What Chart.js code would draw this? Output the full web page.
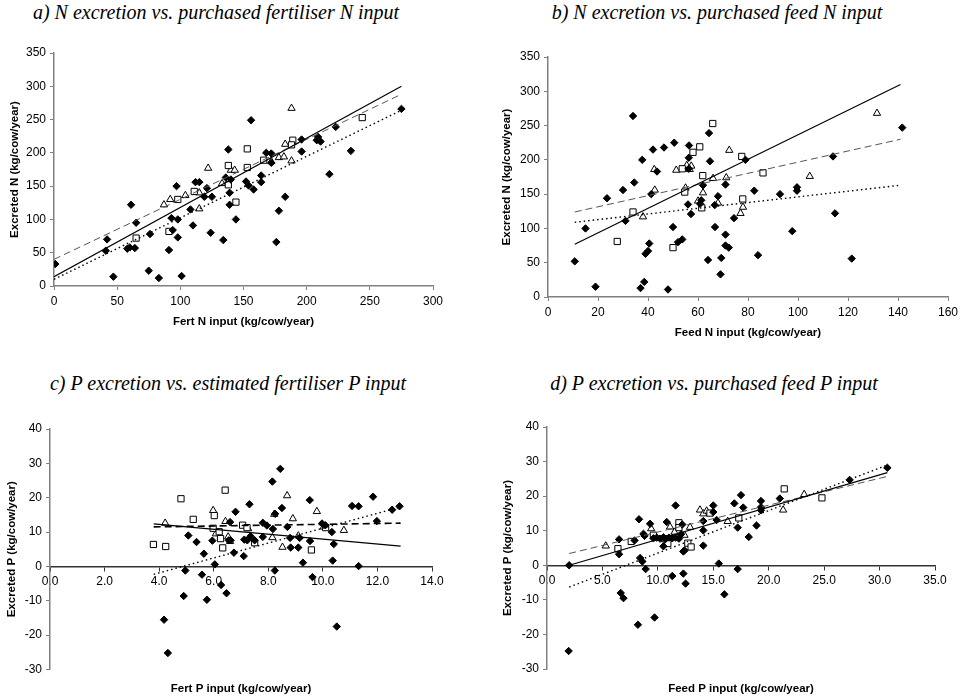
<!DOCTYPE html>
<html>
<head>
<meta charset="utf-8">
<script src="https://cdn.jsdelivr.net/npm/chart.js"></script>
<style>
  body { margin: 0; background: #fff; }
  #page { position: relative; width: 963px; height: 700px; overflow: hidden; }
  canvas { position: absolute; }
  .ptitle { position: absolute; font-family: "Liberation Serif", "Times New Roman", serif; font-style: italic; font-size: 20px; line-height: 24px; color: #000; white-space: nowrap; transform: translateX(-50%); }
</style>
</head>
<body>
<div id="page">
  <div class="ptitle" style="left:216px; top:0px;">a) N excretion vs. purchased fertiliser N input</div>
  <div class="ptitle" style="left:717px; top:0px;">b) N excretion vs. purchased feed N input</div>
  <div class="ptitle" style="left:228px; top:371px;">c) P excretion vs. estimated fertiliser P input</div>
  <div class="ptitle" style="left:714px; top:371px;">d) P excretion vs. purchased feed P input</div>
  <canvas id="chartA" width="460" height="293" style="left:0px; top:40px;"></canvas>
  <canvas id="chartB" width="483" height="304" style="left:480px; top:40px;"></canvas>
  <canvas id="chartC" width="460" height="290" style="left:0px; top:410px;"></canvas>
  <canvas id="chartD" width="483" height="290" style="left:480px; top:410px;"></canvas>
</div>
<script>
// a) Fert N input vs excreted N
const aDiamonds = [[1,33],[42,70],[41,53],[47,14],[61,122],[58,56],[60,58],[64,57],[65,95],[75,23],[76,78],[83,12],[91,54],[93,102],[94,84],[98,73],[98,100],[97,150],[101,15],[108,115],[110,91],[112,156],[115,156],[121,147],[119,134],[125,134],[124,80],[134,69],[136,163],[138,205],[139,122],[139,140],[140,160],[144,100],[156,249],[152,157],[154,151],[158,145],[164,166],[164,156],[168,200],[172,185],[172,199],[176,66],[178,113],[183,134],[196,220],[196,202],[208,219],[209,224],[211,217],[218,168],[223,239],[235,203],[275,266]];
const aSquares = [[65,72],[91,82],[98,130],[111,142],[138,181],[138,152],[144,126],[153,206],[153,178],[166,189],[189,219],[188,212],[244,253]];
const aTriangles = [[87,122],[92,130],[104,136],[115,140],[115,116],[122,177],[133,154],[140,174],[143,174],[172,187],[178,193],[182,194],[183,213],[188,267],[188,188]];
const aLineX = [0, 275];
const aSolid = [14, 300];
const aDashed = [40, 288];
const aDotted = [10, 264];

// b) Feed N input vs excreted N
const bDiamonds = [[10.7,52],[15,100],[19,15],[23.6,144],[30,156],[31,111],[34.5,167],[34,264],[37.7,200],[37,13],[38.5,22],[39,63],[40,67],[40.5,78],[41.3,150],[42,215],[43.6,183],[46.4,218],[48,11],[50.5,225],[50,102],[52,80],[53.7,84],[56.4,221],[56.3,203],[56.3,187],[56,135],[57.2,121],[60.8,136],[61.3,141],[62,163],[64.4,239],[64.8,198],[64,54],[66.8,102],[66.7,134],[68,147],[69.3,57],[69,33],[71,91],[71,75],[72.3,72],[71,164],[74.4,115],[79,200],[82.5,155],[84,61],[92.8,150],[97.7,96],[99.6,160],[99.6,155],[114,205],[114.8,122],[121.5,56],[141.7,247]];
const bSquares = [[27.7,81],[34,124],[50,72],[53.7,187],[54.7,153],[58,211],[60.7,219],[65.9,253],[61.9,177],[61.5,130],[77.5,205],[77.9,143],[86,181]];
const bTriangles = [[38,117],[42.5,186],[42.7,156],[51.3,185],[55,159],[55.5,192],[57.3,191],[56.7,186],[60,140],[62,152],[66,173],[68,137],[72.5,214],[71.3,174],[77,122],[78,131],[104.7,176],[131.6,268]];
const bLineX = [10.7, 141];
const bSolid = [77, 310];
const bDashed = [124, 230];
const bDotted = [109, 163];

// c) Fert P input vs excreted P
const cDiamonds = [[4.18,-15.5],[4.32,-25.2],[4.96,-1.2],[4.9,-8.6],[5.07,9],[5.37,7.1],[5.57,-2.4],[5.64,3.7],[5.75,-9.7],[5.95,7.5],[6.04,0.6],[6.27,-5.4],[6.47,-7.8],[6.6,12.9],[6.62,7.6],[6.8,15.9],[6.74,4],[6.55,7.6],[7.1,3],[7.12,7.8],[7.23,7.6],[7.31,18.1],[7.35,8.8],[7.5,7.6],[7.8,12.7],[7.8,8.6],[7.95,11.9],[8.15,24.7],[8.17,10.9],[8.24,-1.2],[8.25,15.3],[8.44,28.4],[8.5,17],[8.7,11.5],[8.8,8.3],[8.82,5.5],[9.1,5.5],[9.15,8.3],[9.27,1.1],[9.52,19.3],[9.53,7.4],[9.62,-3.1],[9.97,12.5],[10.09,12],[10.33,10],[10.4,6.5],[10.36,1.7],[10.51,-17.5],[11.07,17.6],[11.31,17.5],[11.31,0.1],[11.84,20.3],[11.98,13.2],[12.54,16.5],[12.81,17.5]];
const cSquares = [[3.79,6.4],[4.24,5.8],[4.8,19.7],[5.25,13.7],[5.98,11.1],[6.02,14.8],[6.2,10.1],[6.42,22.2],[6.25,8.1],[6.33,5.4],[7.06,12],[7.22,11.3],[7.5,6.9],[9.58,4.8],[10.1,11.3]];
const cTriangles = [[4.22,12.6],[5.98,16.3],[6.08,9.5],[6.43,13.1],[6.53,8.6],[6.6,7.3],[7.26,11],[8.15,8.4],[8.22,15.2],[8.52,5.6],[8.69,20.6],[8.9,13.9],[9.1,8.9],[9.78,16],[10.03,11.5],[10.77,10.5]];
const cLineX = [3.8, 12.85];
const cSolid = [12.4, 5.9];
const cDashed = [11.5, 12.6];
const cDotted = [-2.3, 17.3];

// d) Feed P input vs excreted P
const dDiamonds = [[2,0],[1.95,-24.8],[6.5,7.5],[6.5,3.2],[6.65,-8],[6.9,-9.5],[7.9,7.2],[8.3,13.3],[8.2,-17.2],[8.4,2.1],[8.6,1.1],[8.7,9.1],[8.8,8.5],[8.9,-1.1],[9.3,12],[9.7,-15.1],[9.6,7.8],[9.9,8],[10.2,7.7],[10.5,8.1],[10.7,7.6],[10.8,12.5],[11,8],[11.3,7.8],[11.6,8],[11.9,7.7],[12.1,9],[10.5,5.5],[11.6,17.3],[12.2,11.8],[12.3,4],[12.4,4.3],[11.3,-3.1],[12.3,-2.4],[12.5,-5.3],[14.1,12.8],[14.1,10.1],[14.1,5.7],[15,17.3],[15,15.4],[15.3,13.1],[15.5,0.5],[16,-8.4],[16.9,17.9],[17.2,10.9],[17.2,-1.1],[17.5,20.3],[17.7,16.7],[18.2,8.2],[18.9,11.5],[19.3,18.6],[19.3,16.8],[19.3,15.9],[21,19.3],[27.3,24.7],[30.7,28.2]];
const dSquares = [[6.4,4.8],[7.6,6.9],[9.6,8.7],[10.6,7.7],[10.9,6.3],[11.9,12.3],[11.9,10.9],[12.7,6.4],[13,5.3],[14.7,15.1],[17.3,13.7],[21.4,22.1],[24.8,19.5]];
const dTriangles = [[5.3,5.6],[9.4,10.6],[11.1,11.1],[11.5,9.6],[12.4,8.7],[12.9,11],[13.8,16],[14.1,14.9],[14.4,15.7],[16.3,12.7],[21.3,16],[23.2,20.5]];
const dLineX = [2, 30.7];
const dSolid = [0, 26.8];
const dDashed = [3.4, 25.7];
const dDotted = [-6.3, 29];

const tickFont = { family: '"Liberation Sans", Arial, sans-serif', size: 12 };
const titleFont = { family: '"Liberation Sans", Arial, sans-serif', size: 11.5, weight: 'bold' };
const axisGrey = '#808080';

function pts(arr) {
  return arr.map(p => ({ x: p[0], y: p[1] }));
}

function trend(xs, ys) {
  return xs.map((x, i) => ({ x: x, y: ys[i] }));
}

function buildDatasets(p) {
  return [
    { data: trend(p.lineX, p.solid), showLine: true, pointRadius: 0, borderColor: '#000', borderWidth: 1.2, fill: false },
    { data: trend(p.lineX, p.dashed), showLine: true, pointRadius: 0, borderColor: p.dashColor, borderWidth: p.dashWidth, borderDash: [7, 4], fill: false },
    { data: trend(p.lineX, p.dotted), showLine: true, pointRadius: 0, borderColor: '#000', borderWidth: 1.4, borderDash: [1.5, 3], fill: false },
    { data: pts(p.diamonds), pointStyle: 'rectRot', pointRadius: 3.7, backgroundColor: '#000', borderColor: '#000', borderWidth: 1 },
    { data: pts(p.squares), pointStyle: 'rect', pointRadius: 4.4, backgroundColor: '#fff', borderColor: '#000', borderWidth: 1 },
    { data: pts(p.triangles), pointStyle: 'triangle', pointRadius: 4.2, backgroundColor: '#fff', borderColor: '#000', borderWidth: 1 }
  ];
}

function makePanel(id, p) {
  const scales = {
    x: {
      type: 'linear',
      min: p.xMin, max: p.xMax,
      ticks: { stepSize: p.xStep, font: tickFont, color: '#000', padding: 4,
        callback: v => p.xDec ? v.toFixed(1) : v },
      grid: { drawOnChartArea: false, tickLength: 4, color: p.zeroAxis ? '#333' : axisGrey },
      border: { color: p.zeroAxis ? '#333' : axisGrey, width: 1.5 },
      title: { display: !p.zeroAxis, text: p.xTitle, font: titleFont, color: '#000' }
    },
    y: {
      type: 'linear',
      min: p.yMin, max: p.yMax,
      ticks: { stepSize: p.yStep, font: tickFont, color: '#000', padding: 4 },
      grid: { drawOnChartArea: false, tickLength: 4, color: axisGrey },
      border: { color: axisGrey, width: 1.5 },
      title: { display: true, text: p.yTitle, font: titleFont, color: '#000' },
      afterFit: s => { s.width = p.yWidth; }
    }
  };
  if (p.zeroAxis) {
    scales.x.position = { y: 0 };
    scales.xt = {
      type: 'linear', position: 'bottom', min: 0, max: 1,
      ticks: { display: false },
      grid: { display: false },
      border: { display: false },
      title: { display: true, text: p.xTitle, font: titleFont, color: '#000' },
      afterFit: s => { s.height = p.xHeight; }
    };
  } else {
    scales.x.afterFit = s => { s.height = p.xHeight; };
  }

  new Chart(document.getElementById(id), {
    type: 'scatter',
    data: { datasets: buildDatasets(p) },
    options: {
      responsive: false,
      animation: false,
      events: [],
      layout: { padding: p.pad },
      plugins: { legend: { display: false }, tooltip: { enabled: false } },
      scales: scales
    }
  });
}

makePanel('chartA', {
  diamonds: aDiamonds, squares: aSquares, triangles: aTriangles,
  lineX: aLineX, solid: aSolid, dashed: aDashed, dotted: aDotted,
  dashColor: '#555', dashWidth: 1,
  xMin: 0, xMax: 300, xStep: 50, yMin: 0, yMax: 350, yStep: 50,
  xTitle: 'Fert N input (kg/cow/year)', yTitle: 'Excreted N (kg/cow/year)',
  yWidth: 50, xHeight: 47, pad: { left: 4, top: 13, right: 27, bottom: 0 }
});

makePanel('chartB', {
  diamonds: bDiamonds, squares: bSquares, triangles: bTriangles,
  lineX: bLineX, solid: bSolid, dashed: bDashed, dotted: bDotted,
  dashColor: '#555', dashWidth: 1,
  xMin: 0, xMax: 160, xStep: 20, yMin: 0, yMax: 350, yStep: 50,
  xTitle: 'Feed N input (kg/cow/year)', yTitle: 'Excreted N (kg/cow/year)',
  yWidth: 52, xHeight: 47, pad: { left: 16, top: 17, right: 15, bottom: 0 }
});

makePanel('chartC', {
  diamonds: cDiamonds, squares: cSquares, triangles: cTriangles,
  lineX: cLineX, solid: cSolid, dashed: cDashed, dotted: cDotted,
  dashColor: '#000', dashWidth: 1.6,
  xMin: 0, xMax: 14, xStep: 2, xDec: true, yMin: -30, yMax: 40, yStep: 10,
  zeroAxis: true,
  xTitle: 'Fert P input (kg/cow/year)', yTitle: 'Excreted P (kg/cow/year)',
  yWidth: 49, xHeight: 30.5, pad: { left: 1, top: 19, right: 28, bottom: 0 }
});

makePanel('chartD', {
  diamonds: dDiamonds, squares: dSquares, triangles: dTriangles,
  lineX: dLineX, solid: dSolid, dashed: dDashed, dotted: dDotted,
  dashColor: '#555', dashWidth: 1,
  xMin: 0, xMax: 35, xStep: 5, xDec: true, yMin: -30, yMax: 40, yStep: 10,
  zeroAxis: true,
  xTitle: 'Feed P input (kg/cow/year)', yTitle: 'Excreted P (kg/cow/year)',
  yWidth: 50, xHeight: 31, pad: { left: 17, top: 17, right: 28, bottom: 0 }
});
</script>
</body>
</html>
